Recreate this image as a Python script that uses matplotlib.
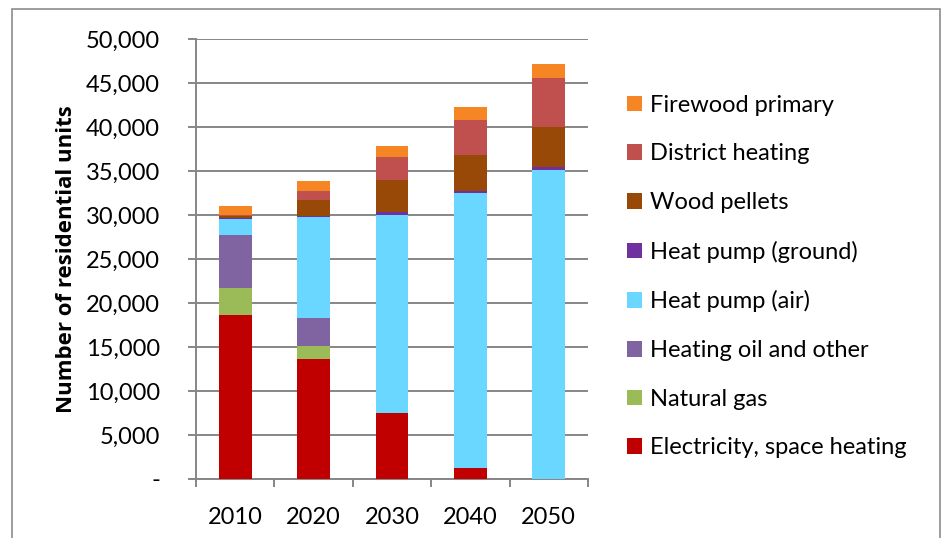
import numpy as np
import matplotlib.pyplot as plt
from matplotlib.patches import Rectangle
from matplotlib.ticker import FuncFormatter, MultipleLocator

plt.rcParams['font.family'] = ['Lato', 'DejaVu Sans']

years = ['2010', '2020', '2030', '2040', '2050']

electricity = [18600, 13600, 7500, 1200, 0]
natural_gas = [3100, 1500, 0, 0, 0]
heating_oil = [6050, 3200, 0, 0, 0]
hp_air = [1750, 11470, 22540, 31270, 35080]
hp_ground = [150, 170, 270, 290, 340]
pellets = [200, 1740, 3670, 4020, 4580]
district = [100, 1060, 2580, 4050, 5600]
firewood = [1100, 1140, 1240, 1410, 1560]

series = [
    ("Electricity, space heating", electricity, "#C00000"),
    ("Natural gas", natural_gas, "#9BBB59"),
    ("Heating oil and other", heating_oil, "#8064A2"),
    ("Heat pump (air)", hp_air, "#69D7FF"),
    ("Heat pump (ground)", hp_ground, "#7030A0"),
    ("Wood pellets", pellets, "#984807"),
    ("District heating", district, "#C0504D"),
    ("Firewood primary", firewood, "#F68524"),
]

fig = plt.figure(figsize=(9.45, 5.38), dpi=100)
ax = fig.add_axes([0.2074, 0.1097, 0.4148, 0.8178])

# outer chart border
fig.patches.append(Rectangle((12 / 945, -0.01), 928 / 945, 1 - 9 / 538 + 0.01,
                             transform=fig.transFigure, fill=False,
                             edgecolor='#8c8c8c', linewidth=1.2))

x = np.arange(len(years))
bottom = np.zeros(len(years))
handles = []
for name, vals, col in series:
    b = ax.bar(x, vals, width=0.42, bottom=bottom, color=col, label=name, zorder=3)
    handles.append(b)
    bottom += np.array(vals)

ax.set_xlim(-0.5, 4.5)
ax.set_ylim(0, 50000)
ax.yaxis.set_major_locator(MultipleLocator(5000))
ax.yaxis.set_major_formatter(FuncFormatter(lambda v, p: '-' if v == 0 else f'{int(v):,}'))
ax.grid(axis='y', color='#868686', linewidth=1.4, zorder=0)

ax.set_xticks(x)
ax.set_xticklabels(years)
ax.set_xticks(np.arange(-0.5, 5, 1), minor=True)
ax.tick_params(axis='x', which='major', length=0, pad=20, labelsize=17)
ax.tick_params(axis='x', which='minor', length=6, color='#868686', width=1.4)
ax.tick_params(axis='y', length=6, color='#868686', width=1.4, pad=20, labelsize=17)

for s in ['top', 'right']:
    ax.spines[s].set_visible(False)
for s in ['left', 'bottom']:
    ax.spines[s].set_color('#868686')
    ax.spines[s].set_linewidth(1.4)

ax.set_ylabel("Number of residential units", fontsize=16, fontweight='bold',
              family=['Open Sans', 'DejaVu Sans'], labelpad=6)

ax.legend(handles[::-1], [s[0] for s in series][::-1], loc='center left',
          bbox_to_anchor=(1.045, 0.46), frameon=False, fontsize=17,
          handlelength=0.65, handleheight=0.65, handletextpad=0.35, labelspacing=1.17)

fig.savefig('out.png', dpi=100)
